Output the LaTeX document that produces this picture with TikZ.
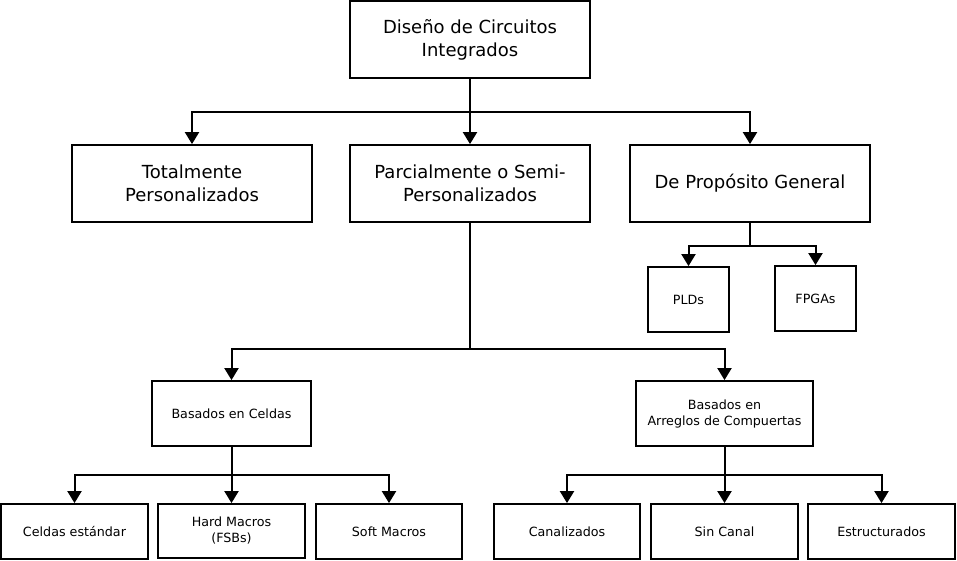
\documentclass[tikz,border=0pt]{standalone}
\usepackage{fontspec}
\setmainfont{DejaVu Sans}
\usetikzlibrary{arrows.meta}
\begin{document}
\begin{tikzpicture}[x=1pt,y=-1pt,
  box/.style={draw,line width=1.8pt,align=center,inner sep=0pt},
  bigbox/.style={box,minimum width=240pt,minimum height=77pt,font=\fontsize{18}{23}\selectfont},
  smallbox/.style={box,font=\fontsize{12.7}{16}\selectfont},
  arr/.style={line width=2pt,-{Triangle[width=14pt,length=12pt]}}]
\useasboundingbox (0,0) rectangle (957,561);
\node[bigbox] (top) at (470,39.5) {Diseño de Circuitos\\Integrados};
\node[bigbox] (tot) at (192,183.5) {Totalmente\\Personalizados};
\node[bigbox] (par) at (470,183.5) {Parcialmente o Semi-\\Personalizados};
\node[bigbox] (gen) at (750,183.5) {De Propósito General};
\node[smallbox,minimum width=81pt,minimum height=65pt] (pld) at (688.5,299.5) {PLDs};
\node[smallbox,minimum width=81pt,minimum height=65pt] (fpga) at (815.5,298.5) {FPGAs};
\node[smallbox,minimum width=159pt,minimum height=65pt] (cel) at (231.5,413.5) {Basados en Celdas};
\node[smallbox,minimum width=177pt,minimum height=65pt] (arr) at (724.5,413.5) {Basados en\\Arreglos de Compuertas};
\node[smallbox,minimum width=147pt,minimum height=55pt] (ce) at (74.5,531.5) {Celdas estándar};
\node[smallbox,minimum width=147pt,minimum height=54pt] (hm) at (231.5,531) {Hard Macros\\(FSBs)};
\node[smallbox,minimum width=146pt,minimum height=55pt] (sm) at (389,531.5) {Soft Macros};
\node[smallbox,minimum width=146pt,minimum height=55pt] (can) at (567,531.5) {Canalizados};
\node[smallbox,minimum width=147pt,minimum height=55pt] (sc) at (724.5,531.5) {Sin Canal};
\node[smallbox,minimum width=147pt,minimum height=55pt] (est) at (881.5,531.5) {Estructurados};
% top level
\draw[arr] (top.south) -- ++(0,33) -| (tot.north);
\draw[arr] (top.south) -- (par.north);
\draw[arr] (top.south) -- ++(0,33) -| (gen.north);
% general
\draw[arr] (gen.south) -- ++(0,23) -| (pld.north);
\draw[arr] (gen.south) -- ++(0,23) -| (fpga.north);
% parcial
\draw[arr] (par.south) -- ++(0,126) -| (cel.north);
\draw[arr] (par.south) -- ++(0,126) -| (arr.north);
% celdas
\draw[arr] (cel.south) -- ++(0,28) -| (ce.north);
\draw[arr] (cel.south) -- (hm.north);
\draw[arr] (cel.south) -- ++(0,28) -| (sm.north);
% arreglos
\draw[arr] (arr.south) -- ++(0,28) -| (can.north);
\draw[arr] (arr.south) -- (sc.north);
\draw[arr] (arr.south) -- ++(0,28) -| (est.north);
\end{tikzpicture}
\end{document}
